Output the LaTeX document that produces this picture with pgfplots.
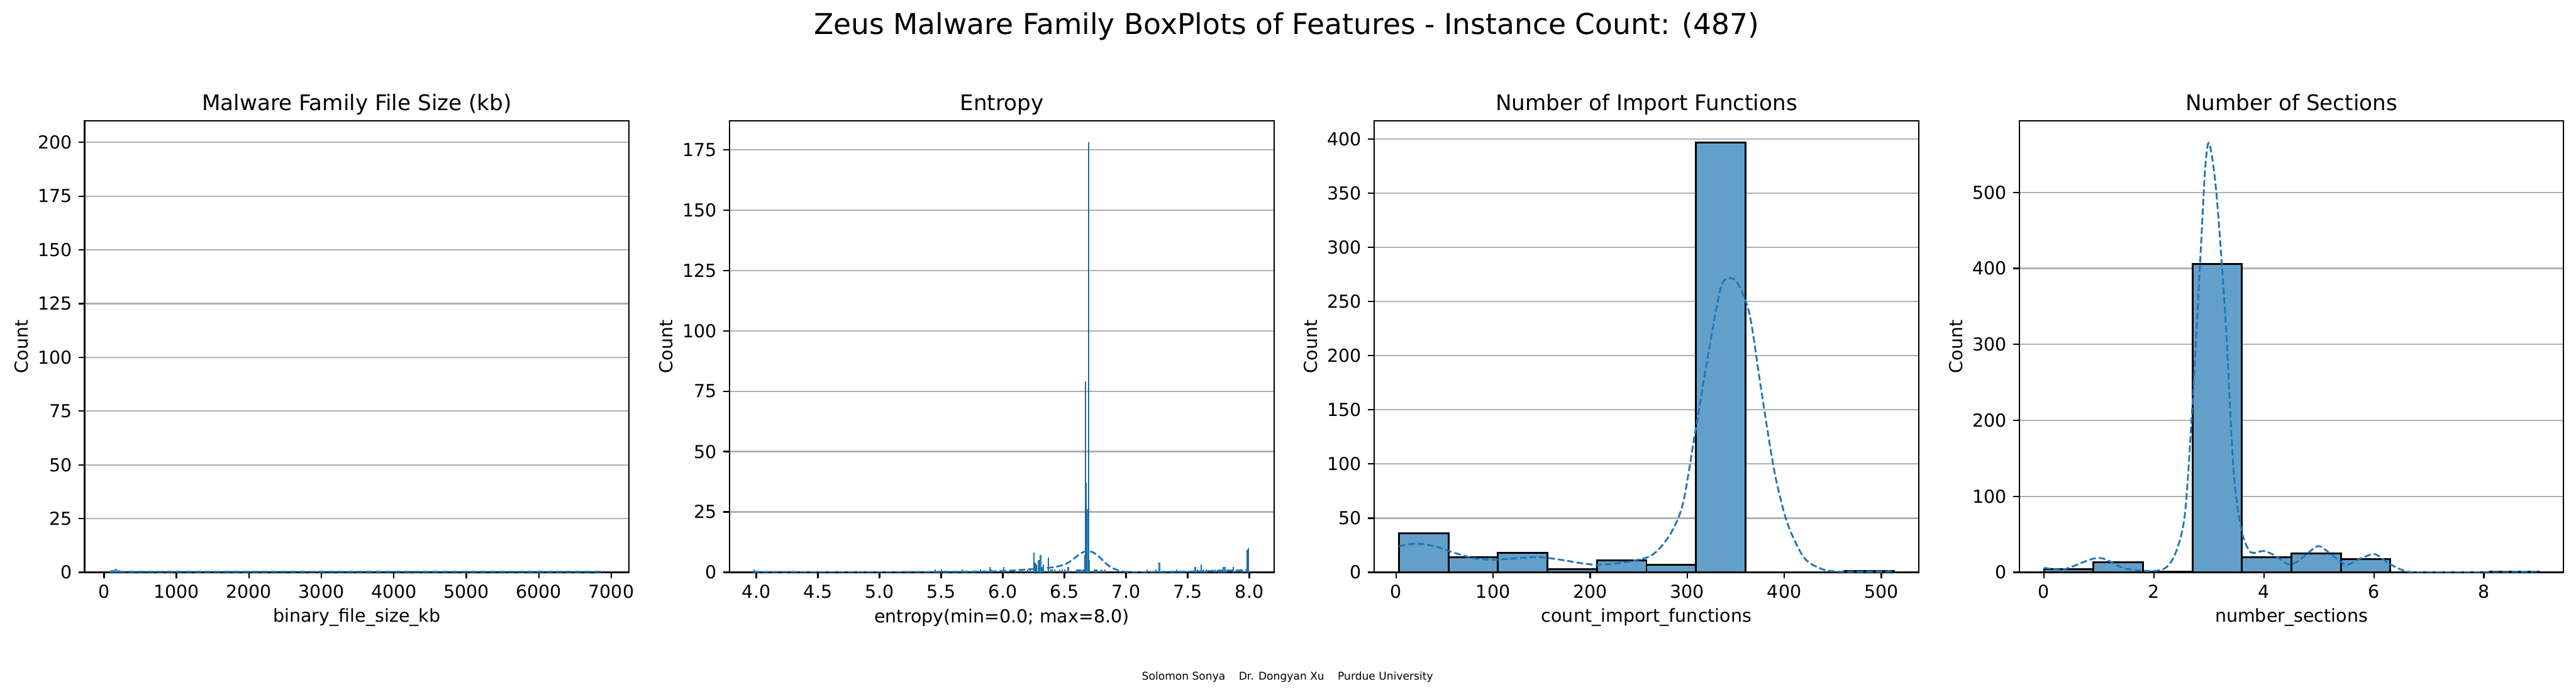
\documentclass[border=0pt]{standalone}
\usepackage{fontspec}
\setmainfont{DejaVu Sans}
\usepackage{pgfplots}
\pgfplotsset{compat=1.18}
\definecolor{c0}{HTML}{1F77B4}
\definecolor{barfill}{HTML}{62A0CA}
\definecolor{gridc}{HTML}{B0B0B0}
\pgfplotsset{
  every axis title shift=0pt,
  myax/.style={
    scale only axis, width=303.8pt, height=251.7pt, anchor=south west,
    axis line style={line width=0.8pt, black},
    every tick/.style={line width=0.8pt, black},
    major tick length=3.5pt, tick align=outside, tick pos=left,
    ymajorgrids, grid style={line width=0.8pt, color=gridc},
    ymin=0,
    tick label style={font=\fontsize{10}{12}\selectfont},
    label style={font=\fontsize{10}{12}\selectfont},
    title style={font=\fontsize{12}{14}\selectfont, at={(axis description cs:0.5,1)}, anchor=base, yshift=6pt},
    ylabel style={at={(axis description cs:-0.1165,0.5)}, anchor=center},
    xlabel style={at={(axis description cs:0.5,-0.1005)}, anchor=center},
    scaled ticks=false,
    /pgf/number format/assume math mode=true,
    /pgf/number format/1000 sep={},
    ylabel=Count,
  },
  kde/.style={c0, line width=1pt, dash pattern=on 3.7pt off 1.6pt},
  hbar/.style={ybar interval, fill=barfill, draw=black, line width=1pt},
}
\begin{document}
\begin{tikzpicture}
\path[use as bounding box] (0,0) rectangle (1437.4pt,387.8pt);
\node[font=\fontsize{16}{19}\selectfont, anchor=base] at (717.9pt,368.6pt) {Zeus Malware Family BoxPlots of Features - Instance Count: (487)};
\node[font=\fontsize{6}{7}\selectfont, anchor=center] at (718.4pt,10.4pt) {Solomon Sonya\hspace{7.5pt}Dr. Dongyan Xu\hspace{7.5pt}Purdue University};

% Panel 1
\begin{axis}[myax, at={(47.2pt,68.66pt)},
  title={Malware Family File Size (kb)},
  xlabel={binary\_file\_size\_kb},
  xmin=-268, xmax=7245, ymax=210,
  xtick={0,1000,2000,3000,4000,5000,6000,7000},
  ytick={0,25,50,75,100,125,150,175,200}]
\addplot[ybar, bar width=25, fill=barfill, draw=c0, line width=0.3pt] coordinates {(120,1) (160,1.5) (200,1)};
\addplot[kde] coordinates {(73,0.3) (500,0.3) (1000,0.3) (2000,0.3) (3000,0.3) (4000,0.3) (5000,0.3) (6000,0.3) (6904,0.3)};
\end{axis}

% Panel 2
\begin{axis}[myax, at={(407.1pt,68.66pt)},
  title={Entropy},
  xlabel={entropy(min=0.0; max=8.0)},
  xmin=3.783, xmax=8.20, ymax=187,
  xtick={4,4.5,5,5.5,6,6.5,7,7.5,8},
  xticklabel style={/pgf/number format/.cd, fixed, fixed zerofill, precision=1},
  ytick={0,25,50,75,100,125,150,175}]
\addplot[ybar, bar width=0.006, fill=c0!80!white, draw=c0!90!black, line width=0.3pt] coordinates {
(3.98,1) (5.45,1) (5.50,1) (5.67,1) (5.82,1) (5.895,2) (5.905,1) (6.005,2) (6.10,1) (6.15,1)
(6.20,1) (6.22,1) (6.25,8) (6.257,3) (6.263,4) (6.27,3) (6.29,5) (6.297,2) (6.305,7) (6.312,2)
(6.32,2) (6.33,3) (6.37,6) (6.39,1) (6.40,1) (6.42,1) (6.46,1) (6.48,1) (6.50,1) (6.53,2)
(6.60,1) (6.608,1) (6.616,1) (6.624,1) (6.632,1) (6.648,1) (6.656,1) (6.663,7) (6.669,79)
(6.675,37) (6.681,14) (6.688,26) (6.694,178) (6.70,5) (6.74,1) (6.75,1) (6.76,1) (6.80,1) (6.83,1)
(7.17,1) (7.24,1) (7.27,4) (7.41,1) (7.56,2) (7.58,1) (7.61,3) (7.63,1) (7.65,1) (7.72,1)
(7.75,1) (7.77,1) (7.79,2) (7.80,2) (7.82,1) (7.87,2) (7.90,1) (7.94,1) (7.98,9) (7.99,10)};
\addplot[kde, smooth] coordinates {
(3.97,0.2) (4.5,0.1) (5.0,0.1) (5.5,0.2) (5.8,0.3) (6.0,0.5) (6.1,0.8) (6.2,1.2) (6.3,1.6)
(6.4,2.0) (6.5,3.2) (6.56,5.0) (6.61,7.0) (6.65,8.3) (6.69,8.8) (6.73,8.3) (6.78,6.5)
(6.83,4.0) (6.88,2.0) (6.95,0.6) (7.0,0.2) (7.1,0.1) (7.3,0.2) (7.5,0.3) (7.7,0.6) (7.9,0.8) (7.99,1.0)};
\end{axis}

% Panel 3
\begin{axis}[myax, at={(766.8pt,68.66pt)},
  title={Number of Import Functions},
  xlabel={count\_import\_functions},
  xmin=-22.5, xmax=538.5, ymax=416.85,
  xtick={0,100,200,300,400,500},
  ytick={0,50,100,150,200,250,300,350,400}]
\addplot[hbar] coordinates {(3,36) (54,14) (105,18) (156,3) (207,11) (258,7) (309,397) (360,0) (411,0) (462,1) (513,1)};
\addplot[kde, smooth] coordinates {
(3,24) (20,26.5) (40,24) (60,18) (80,13) (101,11.5) (125,13) (148,14) (170,11.5) (190,8.5)
(207,7) (230,8.5) (258,13.5) (271,21.5) (285,39) (296,65) (308,128) (322,203) (335,264)
(346,271.5) (355,262) (365,235) (377,164) (390,92.5) (403,46) (420,14) (437,3.6) (450,1)
(470,0.3) (490,0.5) (513,0.8)};
\end{axis}

% Panel 4
\begin{axis}[myax, at={(1126.7pt,68.66pt)},
  title={Number of Sections},
  xlabel={number\_sections},
  xmin=-0.45, xmax=9.45, ymax=594,
  xtick={0,2,4,6,8},
  ytick={0,100,200,300,400,500}]
\addplot[hbar] coordinates {(0,4) (0.9,13) (1.8,1) (2.7,406) (3.6,20) (4.5,25) (5.4,17) (6.3,0) (7.2,0) (8.1,1) (9.0,1)};
\addplot[kde, smooth] coordinates {
(0,6) (0.37,4) (0.99,19) (1.47,5) (1.98,1.7) (2.24,7.4) (2.42,30.6) (2.57,81) (2.71,233)
(2.86,436) (2.93,530) (2.99,565) (3.06,545) (3.15,487) (3.30,335) (3.45,132) (3.59,56) (3.72,30)
(3.81,25.5) (4.0,28) (4.2,22) (4.48,10) (4.75,22) (4.99,34.5) (5.25,22) (5.5,10) (5.75,18)
(6.0,24) (6.15,18) (6.31,10) (6.6,1) (7,0.2) (8,0.2) (9,1)};
\end{axis}
\end{tikzpicture}
\end{document}
